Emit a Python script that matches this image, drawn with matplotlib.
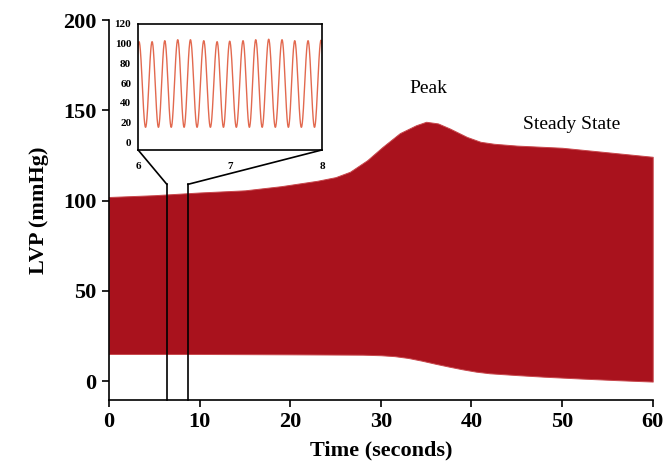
import numpy as np
import matplotlib
matplotlib.use('Agg')
import matplotlib.pyplot as plt
from matplotlib.patches import ConnectionPatch

plt.rcParams['font.family'] = ['Liberation Serif', 'DejaVu Serif']

# envelope of the pressure trace over the whole run (mmHg)
upper_t = [0, 5, 10, 15, 19, 23, 25, 26.6, 28.5, 30.2, 32.1, 33.9, 35, 36.3, 37.6, 39.5,
           41, 42.5, 45, 50, 55, 60]
upper_v = [102, 103, 104.5, 105.7, 108, 111, 113, 116, 122.4, 129.8, 137.4, 141.8, 143.7,
           142.8, 140, 135.3, 132.6, 131.5, 130.5, 129.3, 126.8, 124.3]
lower_t = [0, 10, 20, 28, 30, 31.5, 33, 34.5, 36, 37.5, 39, 40.5, 42, 45, 48, 52, 56, 60]
lower_v = [15, 15, 14.8, 14.6, 14.3, 13.8, 12.8, 11.3, 9.6, 8, 6.5, 5.2, 4.3, 3.3, 2.4,
           1.4, 0.5, -0.3]

# beat extrema in the 6-8 s window (alternating peak / trough)
ext_t = [5.94, 6.01, 6.081, 6.152, 6.221, 6.290, 6.360, 6.431, 6.500, 6.569, 6.641, 6.714,
         6.786, 6.859, 6.928, 6.996, 7.068, 7.141, 7.210, 7.279, 7.349, 7.420, 7.492, 7.565,
         7.634, 7.703, 7.775, 7.848, 7.918, 7.989, 8.06]
ext_v = [15, 102, 15, 102, 15, 103, 15, 104, 15, 104, 15, 103, 15, 102, 15, 102.5, 15, 103,
         15, 104, 15, 104.5, 15, 104, 15, 103, 15, 103, 15, 103.5, 15]

# zoom window marked on the main trace
zoom_t0, zoom_t1, zoom_top = 6.4, 8.7, 109

x_ticks = [0, 10, 20, 30, 40, 50, 60]
y_ticks = [0, 50, 100, 150, 200]
inset_x_ticks = [6, 7, 8]
inset_y_ticks = [0, 20, 40, 60, 80, 100, 120]

fill_color = '#A9121D'
wave_color = '#E2694F'

fig = plt.figure(figsize=(6.64, 4.70), dpi=100)
ax = fig.add_axes([0.164, 0.149, 0.819, 0.808])

# the trace oscillates too fast to resolve, so draw it as a band
tt = np.union1d(upper_t, lower_t)
up = np.interp(tt, upper_t, upper_v)
lo = np.interp(tt, lower_t, lower_v)
ax.fill_between(tt, lo, up, facecolor=fill_color, edgecolor='#C8474C', linewidth=0.7, zorder=2)

ax.plot([zoom_t0, zoom_t0], [-10.5, zoom_top], color='black', lw=1.2, zorder=3, clip_on=False)
ax.plot([zoom_t1, zoom_t1], [-10.5, zoom_top], color='black', lw=1.2, zorder=3, clip_on=False)

ax.text(35.2, 162, 'Peak', fontsize=14, ha='center', va='center')
ax.text(51.0, 142, 'Steady State', fontsize=14, ha='center', va='center')

ax.set_xlim(0, 60)
ax.set_ylim(-10.5, 200)
ax.set_xticks(x_ticks)
ax.set_yticks(y_ticks)
ax.spines['top'].set_visible(False)
ax.spines['right'].set_visible(False)
for s in ['left', 'bottom']:
    ax.spines[s].set_linewidth(1.2)
ax.tick_params(direction='out', length=5, width=1.2, labelsize=16, pad=4)
for lab in ax.get_xticklabels() + ax.get_yticklabels():
    lab.set_fontweight('bold')
ax.set_xlabel('Time (seconds)', fontsize=16, fontweight='bold', labelpad=6)
ax.set_ylabel('LVP (mmHg)', fontsize=16, fontweight='bold', labelpad=10)

# inset with the individual beats
ins = fig.add_axes([0.208, 0.681, 0.277, 0.268])
wt = []
wv = []
for i in range(len(ext_t) - 1):
    s = np.linspace(0, 1, 30)
    wt.extend(ext_t[i] + (ext_t[i + 1] - ext_t[i]) * s)
    wv.extend(ext_v[i] + (ext_v[i + 1] - ext_v[i]) * (1 - np.cos(np.pi * s)) / 2)
ins.plot(wt, wv, color=wave_color, lw=1.0)
ins.set_xlim(6, 8)
ins.set_ylim(-8, 120)
ins.set_xticks(inset_x_ticks)
ins.set_yticks(inset_y_ticks)
ins.tick_params(length=0, labelsize=8, pad=5)
ins.tick_params(axis='x', pad=9)
for lab in ins.get_xticklabels() + ins.get_yticklabels():
    lab.set_fontweight('bold')
for s in ins.spines.values():
    s.set_linewidth(1.2)

for xa, xb in [(6, zoom_t0), (8, zoom_t1)]:
    con = ConnectionPatch(xyA=(xa, -8), coordsA=ins.transData,
                          xyB=(xb, zoom_top), coordsB=ax.transData,
                          color='black', lw=1.2)
    fig.add_artist(con)

fig.savefig('out.png', dpi=100)
